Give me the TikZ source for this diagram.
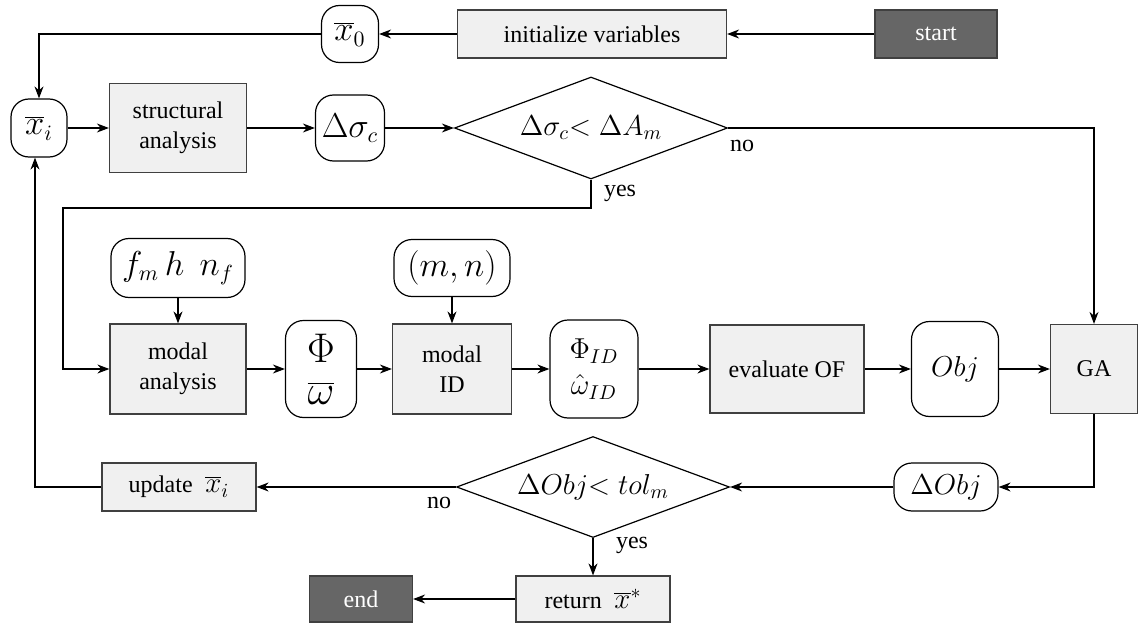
\documentclass[tikz,border=0pt]{standalone}
\usepackage[no-math]{fontspec}
\setmainfont{Liberation Serif}
\usetikzlibrary{shapes.geometric,arrows.meta}

\tikzset{
    box/.style={draw=black!75, fill=gray!12, align=center, inner sep=0pt,
        font=\fontsize{12}{15}\selectfont},
    term/.style={box, fill=black!60, text=white},
    var/.style={draw, rounded corners=9pt, align=center, inner sep=0pt,
        font=\fontsize{16}{19}\selectfont},
    decision/.style={diamond, aspect=2.7, draw, inner sep=0pt, font=\Large},
    lbl/.style={font=\fontsize{12}{15}\selectfont},
    arr/.style={-{Stealth[length=6pt,width=4.5pt]}},
}

\begin{document}
\begin{tikzpicture}[x=0.5pt, y=-0.5pt, line width=0.6pt]
        \useasboundingbox (0,0) rectangle (1140,626);

        % Prima riga: inizio
        \node[term, minimum width=61pt, minimum height=24pt] (start) at (936,34) {start};
        \node[box, minimum width=134.5pt, minimum height=24pt] (init) at (592,34) {initialize variables};
        \node[var, minimum width=28.5pt, minimum height=28.5pt] (x0) at (350,34) {$\overline{x}_0$};

        % Seconda riga: analisi strutturale
        \node[var, minimum width=28pt, minimum height=29pt] (xi) at (39,128) {$\overline{x}_i$};
        \node[box, minimum width=68.5pt, minimum height=44.5pt] (struct) at (178,128) {structural\\analysis};
        \node[var, minimum width=34.5pt, minimum height=33pt] (dsig) at (350,128) {$\Delta\sigma_c$};
        \node[decision, minimum width=136.5pt, minimum height=51pt] (dec1) at (591,128) {$\Delta\sigma_c{<}\;\Delta A_m$};

        % Terza riga: analisi modale
        \node[var, minimum width=67pt, minimum height=29.5pt] (fm) at (178,268) {$f_m\,h\;\,n_f$};
        \node[box, minimum width=68pt, minimum height=45pt] (modal) at (178,369) {modal\\analysis};
        \node[var, minimum width=35.5pt, minimum height=48.5pt, font=\huge] (phi) at (321,369) {$\Phi$\\[-4pt]$\overline{\omega}$};
        \node[var, minimum width=58pt, minimum height=28.5pt] (mn) at (452,268) {$(m,n)$};
        \node[box, minimum width=59.5pt, minimum height=45pt] (mid) at (452,369) {modal\\ID};
        \node[var, minimum width=44pt, minimum height=49pt, font=\Large] (phiid) at (594,369) {$\Phi_{ID}$\\$\hat{\omega}_{ID}$};
        \node[box, minimum width=77pt, minimum height=44pt] (eval) at (787,369) {evaluate OF};
        \node[var, minimum width=43.5pt, minimum height=47.5pt, font=\Large] (obj) at (955,369) {$Obj$};
        \node[box, minimum width=43.5pt, minimum height=44.5pt] (ga) at (1094,369) {GA};

        % Quarta riga: convergenza
        \node[var, minimum width=52pt, minimum height=24pt, font=\Large] (dobj) at (946,487) {$\Delta Obj$};
        \node[decision, minimum width=136.5pt, minimum height=50.5pt] (dec2) at (593,487) {$\Delta Obj{<}\;tol_m$};
        \node[box, minimum width=77pt, minimum height=24pt] (update) at (179,487) {update\; {\Large$\overline{x}_i$}};

        % Ultima riga: fine
        \node[box, minimum width=77pt, minimum height=23pt] (ret) at (593,599) {return\; {\Large$\overline{x}^*$}};
        \node[term, minimum width=51.5pt, minimum height=23pt] (end) at (361,599) {end};

        % Etichette
        \node[lbl] (no1) at (742,146) {no};
        \node[lbl] (yes1) at (620,193) {yes};
        \node[lbl] (no2) at (439,503) {no};
        \node[lbl] (yes2) at (632,545) {yes};

        % Frecce
        \coordinate (ybend) at (63,208);
        \draw[arr] (start) -- (init);
        \draw[arr] (init) -- (x0);
        \draw[arr] (x0) -| (xi);
        \draw[arr] (xi) -- (struct);
        \draw[arr] (struct) -- (dsig);
        \draw[arr] (dsig) -- (dec1);
        \draw[arr] (dec1) -| (ga); % ramo no
        \draw[arr] (dec1.south) |- (ybend) |- (modal); % ramo yes
        \draw[arr] (fm) -- (modal);
        \draw[arr] (mn) -- (mid);
        \draw[arr] (modal) -- (phi);
        \draw[arr] (phi) -- (mid);
        \draw[arr] (mid) -- (phiid);
        \draw[arr] (phiid) -- (eval);
        \draw[arr] (eval) -- (obj);
        \draw[arr] (obj) -- (ga);
        \draw[arr] (ga) |- (dobj);
        \draw[arr] (dobj) -- (dec2);
        \draw[arr] (dec2) -- (update);
        \draw[arr] (update.west) -| ([xshift=-2pt]xi.south);
        \draw[arr] (dec2) -- (ret);
        \draw[arr] (ret) -- (end);
    \end{tikzpicture}
\end{document}
